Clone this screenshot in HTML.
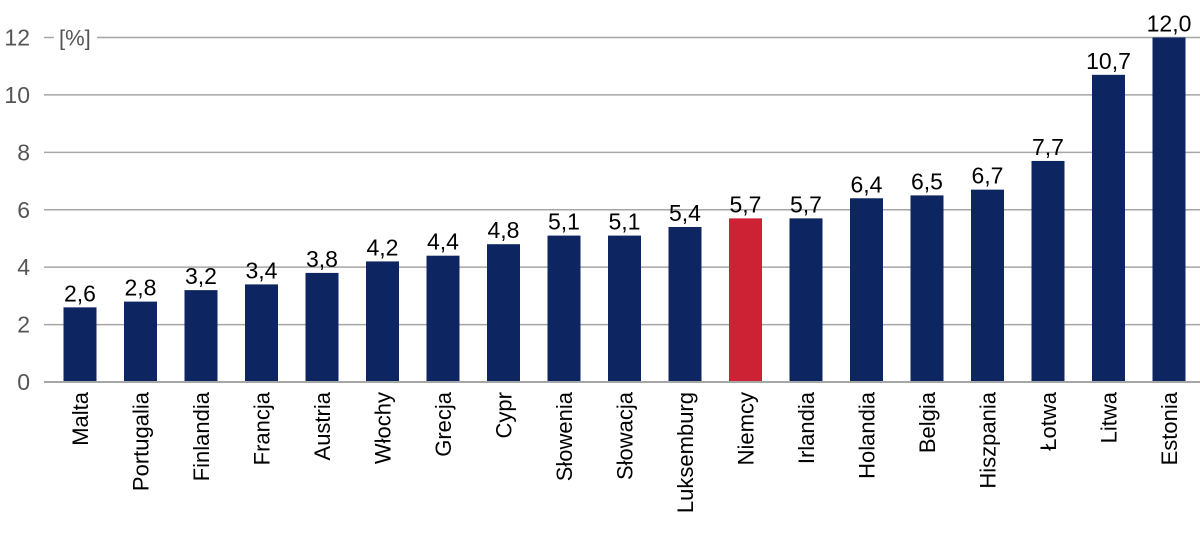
<!DOCTYPE html>
<html><head><meta charset="utf-8"><style>
html,body{margin:0;padding:0;background:#fff;}
svg{display:block;font-family:"Liberation Sans",sans-serif;}
</style></head><body>
<svg id="chart" width="1200" height="540"></svg>
<script>
const categories=["Malta","Portugalia","Finlandia","Francja","Austria","Włochy","Grecja","Cypr","Słowenia","Słowacja","Luksemburg","Niemcy","Irlandia","Holandia","Belgia","Hiszpania","Łotwa","Litwa","Estonia"];
const values=[2.6,2.8,3.2,3.4,3.8,4.2,4.4,4.8,5.1,5.1,5.4,5.7,5.7,6.4,6.5,6.7,7.7,10.7,12.0];
const highlighted=["Niemcy"];
const yTicks=[0,2,4,6,8,10,12];
const NS="http://www.w3.org/2000/svg";
const svg=document.getElementById('chart');
const y0=382,yTop=37.5,yMax=12;
const y=v=>y0-(v/yMax)*(y0-yTop);
const x0=80,step=60.5,bw=33;
const x=i=>x0+i*step;
function mk(tag,attrs,parent){const e=document.createElementNS(NS,tag);for(const k in attrs)e.setAttribute(k,attrs[k]);(parent||svg).appendChild(e);return e;}
yTicks.forEach(t=>{
  const g=mk('line',{x1:t===12?97:44,x2:1200,y1:y(t),y2:y(t),stroke:'#a6a6a6','stroke-width':t===0?2:1.5});
  
  
  const tl=mk('text',{x:30,y:y(t)+8,'text-anchor':'end','font-size':23,fill:'#555'});
  tl.textContent=String(t);
  
  
});
const tk=mk('line',{x1:44,x2:54,y1:yTop,y2:yTop,stroke:'#a6a6a6','stroke-width':1.5});


const unit=mk('text',{x:59,y:yTop+8,'font-size':22,fill:'#555'});
unit.textContent='[%]';


categories.forEach((c,i)=>{
  const v=values[i];
  const r=mk('rect',{x:x(i)-bw/2,y:y(v),width:bw,height:y0-y(v)-1,fill:highlighted.includes(c)?'#cc2233':'#0d2560'});
  
  
  const vl=mk('text',{x:x(i),y:y(v)-6,'text-anchor':'middle','font-size':23,fill:'#000'});
  vl.textContent=v.toFixed(1).replace('.',',');
  
  
  const cl=mk('text',{x:0,y:0,'text-anchor':'end','font-size':22,fill:'#000',transform:`translate(${x(i)+8},392) rotate(-90)`});
  cl.textContent=c;
  
  
});
</script>
</body></html>
